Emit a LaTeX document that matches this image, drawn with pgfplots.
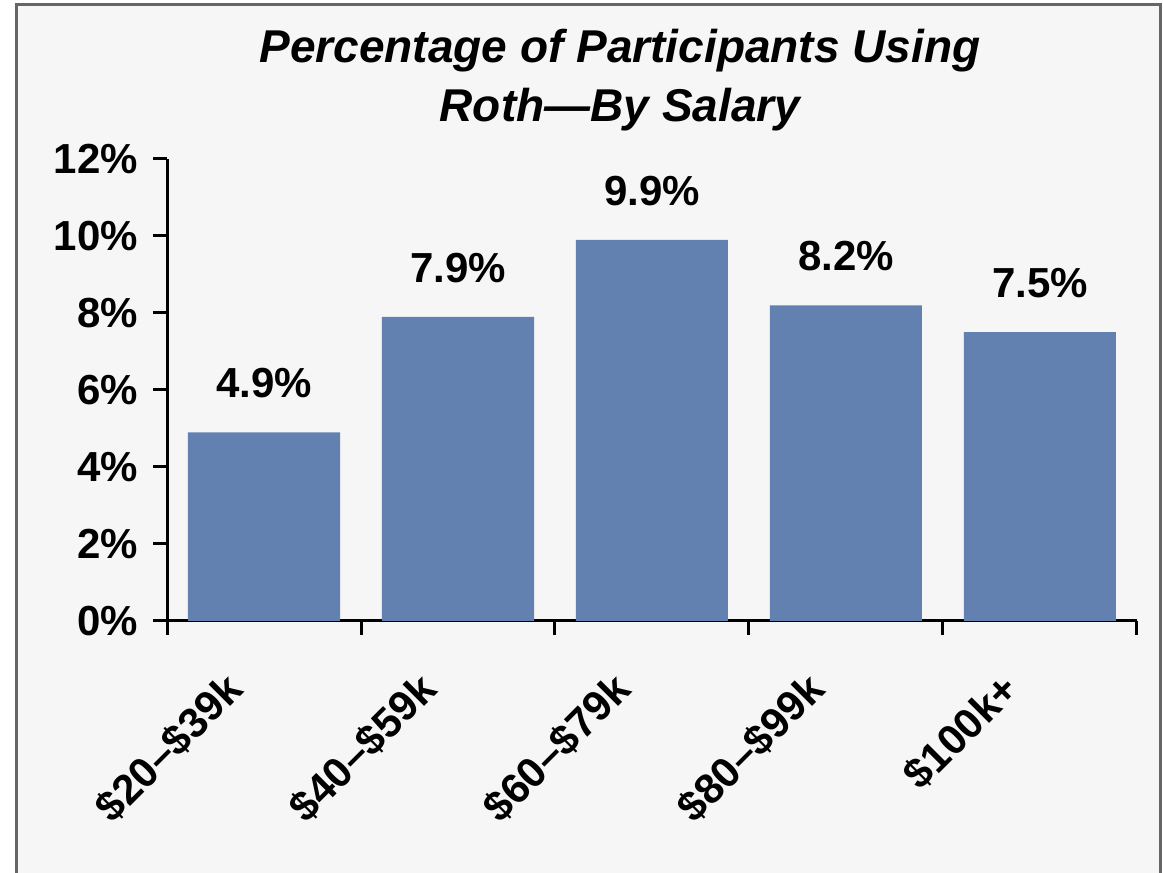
\documentclass[border=0pt]{standalone}
\usepackage{fontspec}
\setmainfont{Liberation Sans}
\usepackage{pgfplots}
\pgfplotsset{compat=1.18}
\definecolor{barblue}{RGB}{98,128,176}
\definecolor{bgc}{RGB}{246,246,246}
\begin{document}
\begin{tikzpicture}
\useasboundingbox (0pt,0pt) rectangle (581.5pt,436.5pt);
\fill[white] (0pt,0pt) rectangle (581.5pt,436.5pt);
\fill[bgc] (8pt,-5pt) rectangle (580pt,434pt);
\draw[gray!80!black, line width=1.5pt] (8pt,-5pt) -- (8pt,434pt) -- (580pt,434pt) -- (580pt,-5pt);
\node[align=center, font=\bfseries\itshape\fontsize{23}{29.5}\selectfont] at (310pt,396.5pt)
  {Percentage of Participants Using\\Roth—By Salary};
\begin{axis}[
  at={(83.5pt,126pt)}, anchor=south west,
  width=485pt, height=231pt, scale only axis,
  xmin=-0.5, xmax=4.5, ymin=0, ymax=12,
  axis lines*=left,
  axis line style={line width=1.5pt},
  every tick/.style={black, line width=1.5pt},
  tick align=outside,
  major tick length=7pt,
  ytick={0,2,...,12},
  yticklabel={\pgfmathprintnumber{\tick}\%},
  y tick label style={xshift=-4pt},
  xtick={-0.5,0.5,1.5,2.5,3.5,4.5},
  xticklabels={},
  extra x ticks={0,1,2,3,4},
  extra x tick labels={\$20–\$39k,\$40–\$59k,\$60–\$79k,\$80–\$99k,\$100k+},
  extra x tick style={major tick length=0pt, tick label style={xshift=-12pt, yshift=-28pt, rotate=45, anchor=east}},
  /pgf/number format/assume math mode=true,
  tick label style={font=\bfseries\fontsize{21}{25}\selectfont},
  ybar, bar width=76pt,
  nodes near coords={\pgfmathprintnumber[fixed,precision=1,fixed zerofill]{\pgfplotspointmeta}\%},
  nodes near coords style={font=\bfseries\fontsize{21}{25}\selectfont, anchor=center, yshift=24.5pt, black},
  clip=false,
]
\addplot[fill=barblue, draw=none] coordinates {(0,4.9) (1,7.9) (2,9.9) (3,8.2) (4,7.5)};
\end{axis}
\end{tikzpicture}
\end{document}
